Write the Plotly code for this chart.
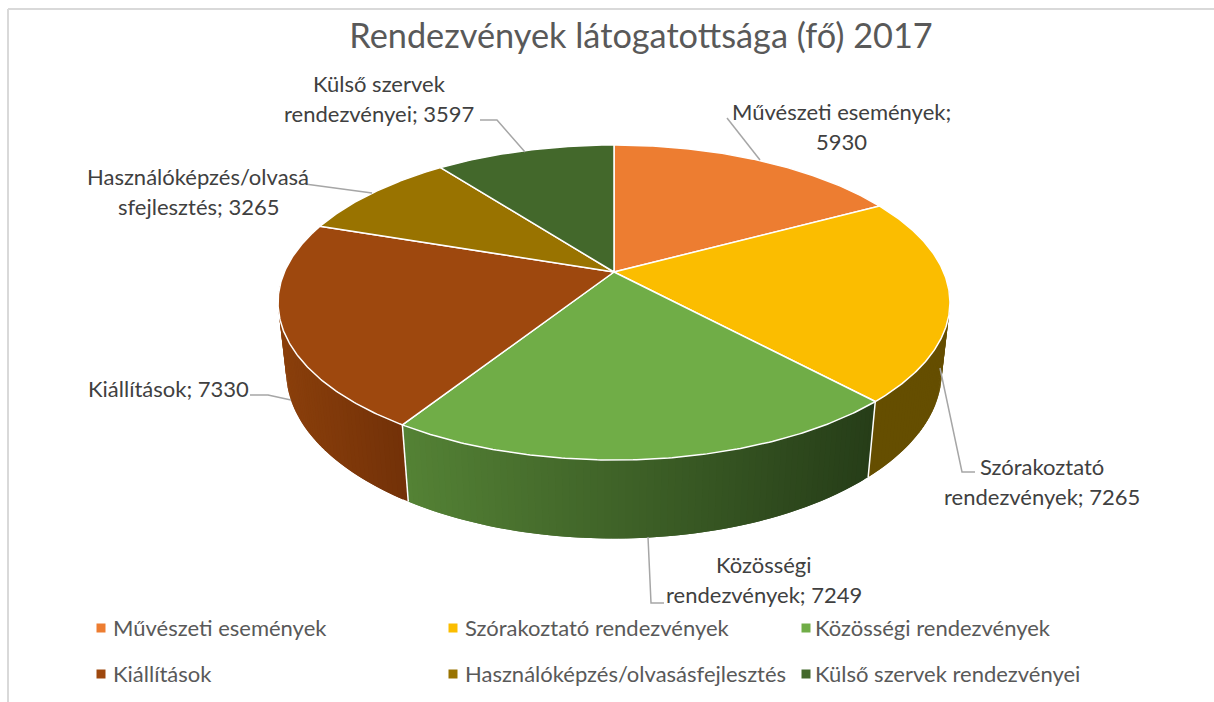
import math
import plotly.graph_objects as go

categories = ["Művészeti események", "Szórakoztató rendezvények", "Közösségi rendezvények",
              "Kiállítások", "Használóképzés/olvasásfejlesztés", "Külső szervek rendezvényei"]
values = [5930, 7265, 7249, 7330, 3265, 3597]
colors = ["#ED7D31", "#FBBD00", "#70AD47", "#9E480E", "#997300", "#43682B"]
wall_left = ["#ED7D31", "#654E00", "#548235", "#8A3F0B", "#997300", "#43682B"]
wall_right = ["#ED7D31", "#654E00", "#263D18", "#733108", "#997300", "#43682B"]
label_lines = [["Művészeti események;", "5930"], ["Szórakoztató", "rendezvények; 7265"],
               ["Közösségi", "rendezvények; 7249"], ["Kiállítások; 7330"],
               ["Használóképzés/olvasá", "sfejlesztés; 3265"], ["Külső szervek", "rendezvényei; 3597"]]
label_centers = [(841, 111), (1042, 466), (764, 564), (168, 388), (198, 176), (379, 83)]
leaders = [[(727, 118), (760, 160)], [(940, 368), (962, 472), (975, 472)],
           [(648, 537), (651, 603), (664, 603)], [(250, 395), (268, 395), (291, 400)],
           [(305, 184), (372, 193)], [(480, 120), (497, 120), (525, 152)]]
legend_pos = [(101, 628), (453, 628), (806, 628), (101, 674), (453, 674), (806, 674)]
legend_text_x = [111, 463, 813, 111, 463, 813]

CX, CY, A, B, K, M, C = 614, 272, 329.6, 151.6, 0.1937, 0.024, 69.7
FONT = "Lato"


def proj(deg, level=0):
    t = math.radians(deg)
    x, y = math.sin(t), math.cos(t)
    w = 1 + K * y + M * level
    return CX + A * x / w, CY + (-B * y + C * level) / w


def mix(c1, c2, f):
    a = [int(c1[i:i + 2], 16) for i in (1, 3, 5)]
    b = [int(c2[i:i + 2], 16) for i in (1, 3, 5)]
    return "#" + "".join(f"{round(p + (q - p) * f):02x}" for p, q in zip(a, b))


total = sum(values)
edges = [0]
for v in values:
    edges.append(edges[-1] + v / total * 360)

fig = go.Figure()


def poly(xs, ys, fill, line, width=1, **kw):
    fig.add_trace(go.Scatter(x=xs, y=ys, mode="lines", fill="toself", fillcolor=fill,
                             line=dict(color=line, width=width), hoverinfo="skip",
                             showlegend=False, **kw))


# side walls, drawn as narrow overlapping strips so that the shading runs across them
for i in range(len(values)):
    lo, hi = max(edges[i], 95), min(edges[i + 1], 265)
    if lo >= hi:
        continue
    n = max(1, int((hi - lo) / 1.0))
    step = (hi - lo) / n
    x_lo, x_hi = sorted((proj(lo)[0], proj(hi)[0]))
    for s in range(n):
        d0 = lo + step * s
        d1 = min(hi, d0 + 2 * step)
        degs = [d0 + (d1 - d0) * j / 4 for j in range(5)]
        upper = [proj(d) for d in degs]
        lower = [proj(d, 1) for d in reversed(degs)]
        p = upper + lower
        f = (proj(d0 + step / 2)[0] - x_lo) / (x_hi - x_lo)
        col = mix(wall_left[i], wall_right[i], f)
        poly([q[0] for q in p] + [p[0][0]], [q[1] for q in p] + [p[0][1]], col, col, 0)

# white seams on the wall
for e in edges[1:]:
    if 95 < e < 265:
        a, b = proj(e), proj(e, 1)
        fig.add_trace(go.Scatter(x=[a[0], b[0]], y=[a[1], b[1]], mode="lines",
                                 line=dict(color="white", width=1.5), hoverinfo="skip",
                                 showlegend=False))

# top faces
for i, cat in enumerate(categories):
    n = max(2, int(edges[i + 1] - edges[i]) * 2)
    arc = [proj(edges[i] + (edges[i + 1] - edges[i]) * s / n) for s in range(n + 1)]
    xs = [CX] + [q[0] for q in arc] + [CX]
    ys = [CY] + [q[1] for q in arc] + [CY]
    poly(xs, ys, colors[i], "white", 1.5, name=cat)

# leader lines
for pts in leaders:
    fig.add_trace(go.Scatter(x=[q[0] for q in pts], y=[q[1] for q in pts], mode="lines",
                             line=dict(color="#A6A6A6", width=1.5), hoverinfo="skip",
                             showlegend=False))

annotations = []
# data labels
for lines, (cx, cy) in zip(label_lines, label_centers):
    for j, t in enumerate(lines):
        annotations.append(dict(x=cx, y=cy + j * 30, text=t, showarrow=False, xanchor="center",
                                yanchor="middle", font=dict(family=FONT, size=22, color="#404040")))

# legend
for i, cat in enumerate(categories):
    x, y = legend_pos[i]
    fig.add_trace(go.Scatter(x=[x], y=[y], mode="markers", name=cat, showlegend=False,
                             marker=dict(symbol="square", size=9, color=colors[i]),
                             hoverinfo="skip"))
    annotations.append(dict(x=legend_text_x[i], y=y - 1, text=cat, showarrow=False, xanchor="left",
                            yanchor="middle", font=dict(family=FONT, size=22, color="#595959")))

fig.update_layout(
    width=1214, height=702, margin=dict(l=0, r=0, t=0, b=0),
    paper_bgcolor="white", plot_bgcolor="white", showlegend=False,
    title=dict(text="Rendezvények látogatottsága (fő) 2017", x=641 / 1214, y=1 - 36 / 702,
               xanchor="center", yanchor="middle", font=dict(family=FONT, size=34.3, color="#595959")),
    xaxis=dict(range=[0, 1214], visible=False, fixedrange=True),
    yaxis=dict(range=[702, 0], visible=False, fixedrange=True),
    annotations=annotations,
    shapes=[dict(type="line", x0=8, x1=8, y0=9, y1=702, line=dict(color="#D9D9D9", width=2)),
            dict(type="line", x0=8, x1=1214, y0=9, y1=9, line=dict(color="#D9D9D9", width=2))],
)
fig.write_html("out.html", config=dict(displayModeBar=False),
               post_script="document.body.style.margin='0';")
